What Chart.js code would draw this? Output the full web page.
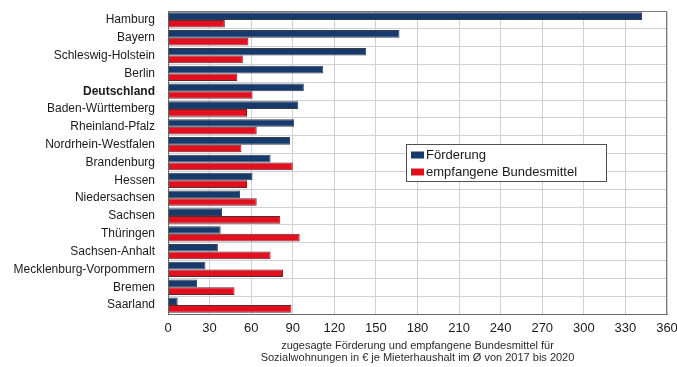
<!DOCTYPE html>
<html lang="de">
<head>
<meta charset="utf-8">
<title>Förderung und empfangene Bundesmittel je Mieterhaushalt</title>
<script src="https://cdn.jsdelivr.net/npm/chart.js@4/dist/chart.umd.min.js"></script>
<style>
  html, body { margin: 0; padding: 0; background: #ffffff; }
  #wrap { position: relative; width: 677px; height: 367px; }
</style>
</head>
<body>
<div id="wrap"><canvas id="c" width="677" height="367"></canvas></div>
<script>
// Bundesländer, sortiert nach zugesagter Förderung
const laender = [
  "Hamburg", "Bayern", "Schleswig-Holstein", "Berlin", "Deutschland",
  "Baden-Württemberg", "Rheinland-Pfalz", "Nordrhein-Westfalen", "Brandenburg",
  "Hessen", "Niedersachsen", "Sachsen", "Thüringen", "Sachsen-Anhalt",
  "Mecklenburg-Vorpommern", "Bremen", "Saarland"
];

// zugesagte Förderung in € je Mieterhaushalt (Ø 2017–2020)
const foerderung = [342, 167, 143, 112, 98, 94, 91, 88, 74, 61, 52, 39, 38, 36, 27, 21, 7];

// empfangene Bundesmittel in € je Mieterhaushalt (Ø 2017–2020)
const bundesmittel = [41, 58, 54, 50, 61, 57, 64, 53, 90, 57, 64, 81, 95, 74, 83, 48, 89];

// Achsenteilung
const xTicks = [0, 30, 60, 90, 120, 150, 180, 210, 240, 270, 300, 330, 360];

const achsentitel = [
  "zugesagte Förderung und empfangene Bundesmittel für",
  "Sozialwohnungen in € je Mieterhaushalt im Ø von 2017 bis 2020"
];

const FONT = "'Liberation Sans', Arial, Helvetica, sans-serif";
const NAVY = "#173a6c";
const RED = "#e2101f";

// Rahmen oben und rechts um den Plotbereich
const frame = {
  id: "frame",
  afterDatasetsDraw(chart) {
    const { ctx, chartArea: a } = chart;
    ctx.save();
    ctx.strokeStyle = "#7a7a7a";
    ctx.lineWidth = 1;
    ctx.beginPath();
    ctx.moveTo(a.left, a.top + 0.5);
    ctx.lineTo(a.right - 0.5, a.top + 0.5);
    ctx.lineTo(a.right - 0.5, a.bottom);
    ctx.stroke();
    ctx.restore();
  }
};

// Legende als Kasten innerhalb des Plotbereichs
const boxLegend = {
  id: "boxLegend",
  afterDraw(chart, args, opts) {
    const { ctx, chartArea: a } = chart;
    const x = a.left + opts.dx, y = a.top + opts.dy;
    ctx.save();
    ctx.fillStyle = "#ffffff";
    ctx.fillRect(x, y, opts.w, opts.h);
    ctx.strokeStyle = "#505050";
    ctx.lineWidth = 1;
    ctx.strokeRect(x + 0.5, y + 0.5, opts.w, opts.h);
    ctx.font = "13px " + FONT;
    ctx.textBaseline = "middle";
    ctx.textAlign = "left";
    chart.data.datasets.forEach((ds, i) => {
      const cy = y + 11 + i * 17;
      ctx.fillStyle = ds.backgroundColor;
      ctx.fillRect(x + 5, cy - 3.5, 13, 7);
      ctx.fillStyle = "#1a1a1a";
      ctx.fillText(ds.label, x + 20, cy);
    });
    ctx.restore();
  }
};

new Chart(document.getElementById("c"), {
  type: "bar",
  data: {
    labels: laender,
    datasets: [
      {
        label: "Förderung",
        data: foerderung,
        backgroundColor: NAVY,
        borderColor: "#3c3c46",
        borderWidth: 1
      },
      {
        label: "empfangene Bundesmittel",
        data: bundesmittel,
        backgroundColor: RED,
        borderColor: "#5a2a2e",
        borderWidth: 1
      }
    ]
  },
  options: {
    indexAxis: "y",
    responsive: false,
    animation: false,
    devicePixelRatio: 1,
    layout: { padding: { top: 11, right: 0, left: 0, bottom: 0 } },
    datasets: { bar: { categoryPercentage: 0.86, barPercentage: 1.0 } },
    plugins: {
      legend: { display: false },
      tooltip: { enabled: false },
      boxLegend: { dx: 238, dy: 133, w: 200, h: 37 }
    },
    scales: {
      x: {
        type: "linear",
        min: 0,
        max: 360,
        afterBuildTicks(scale) { scale.ticks = xTicks.map(v => ({ value: v })); },
        afterFit(scale) {
          scale.height = 53;
          scale.paddingLeft = 0;
          scale.paddingRight = 10;
        },
        grid: { color: "#cfcfd8", drawTicks: false, lineWidth: 1 },
        border: { color: "#6a6a6a", width: 1 },
        ticks: {
          color: "#1a1a1a",
          padding: 7,
          maxRotation: 0,
          font: { family: FONT, size: 13 }
        },
        title: {
          display: true,
          text: achsentitel,
          color: "#2a2a2a",
          padding: { top: 4, bottom: 3 },
          font: { family: FONT, size: 11, lineHeight: 1.1 }
        }
      },
      y: {
        afterFit(scale) {
          scale.width = 168;
          scale.paddingTop = 0;
          scale.paddingBottom = 0;
        },
        grid: { color: "#cfcfd8", drawTicks: false, offset: true },
        border: { color: "#6a6a6a", width: 1 },
        ticks: {
          color: "#1a1a1a",
          padding: 13,
          autoSkip: false,
          font: ctx => ({
            family: FONT,
            size: 12,
            weight: ctx.tick && ctx.tick.label === "Deutschland" ? "bold" : "normal"
          })
        }
      }
    }
  },
  plugins: [frame, boxLegend]
});
</script>
</body>
</html>
